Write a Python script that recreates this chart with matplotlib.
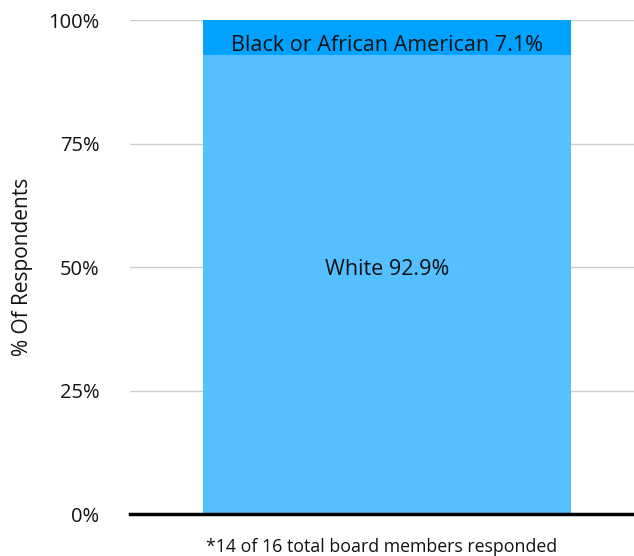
import matplotlib.pyplot as plt

plt.rcParams['font.family'] = ['Open Sans', 'DejaVu Sans']

categories = ['White', 'Black or African American']
values = [92.9, 7.1]
colors = ['#55bfff', '#00a2ff']
yticks = [0, 25, 50, 75, 100]
footnote = '*14 of 16 total board members responded'

# label positions (as in the reference, not exact segment centres)
label_y = [49.4, 94.9]

fig = plt.figure(figsize=(6.34, 5.56), dpi=100)
ax = fig.add_axes([0.205, 0.0755, 0.795, 0.8885])

bottom = 0
for name, val, col, ly in zip(categories, values, colors, label_y):
    ax.bar(0, val, width=0.73, bottom=bottom, color=col, zorder=2)
    ax.text(0, ly, f'{name} {val}%', ha='center', va='center',
            fontsize=15.5, color='#111111', zorder=3)
    bottom += val

ax.set_xlim(-0.51, 0.49)
ax.set_ylim(0, 100)
ax.set_yticks(yticks)
ax.set_yticklabels([f'{t}%' for t in yticks], fontsize=14.5, color='#111111')
ax.tick_params(axis='y', length=0, pad=22)
ax.set_xticks([])
ax.grid(axis='y', color='#cccccc', linewidth=1, zorder=0)
for s in ['top', 'right', 'left']:
    ax.spines[s].set_visible(False)
ax.spines['bottom'].set_linewidth(2.5)
ax.spines['bottom'].set_zorder(4)
ax.set_ylabel('% Of Respondents', fontsize=15, labelpad=11, color='#111111')
ax.set_xlabel(footnote, fontsize=12.8, labelpad=17, color='#111111')

fig.savefig('out.png', dpi=100)
